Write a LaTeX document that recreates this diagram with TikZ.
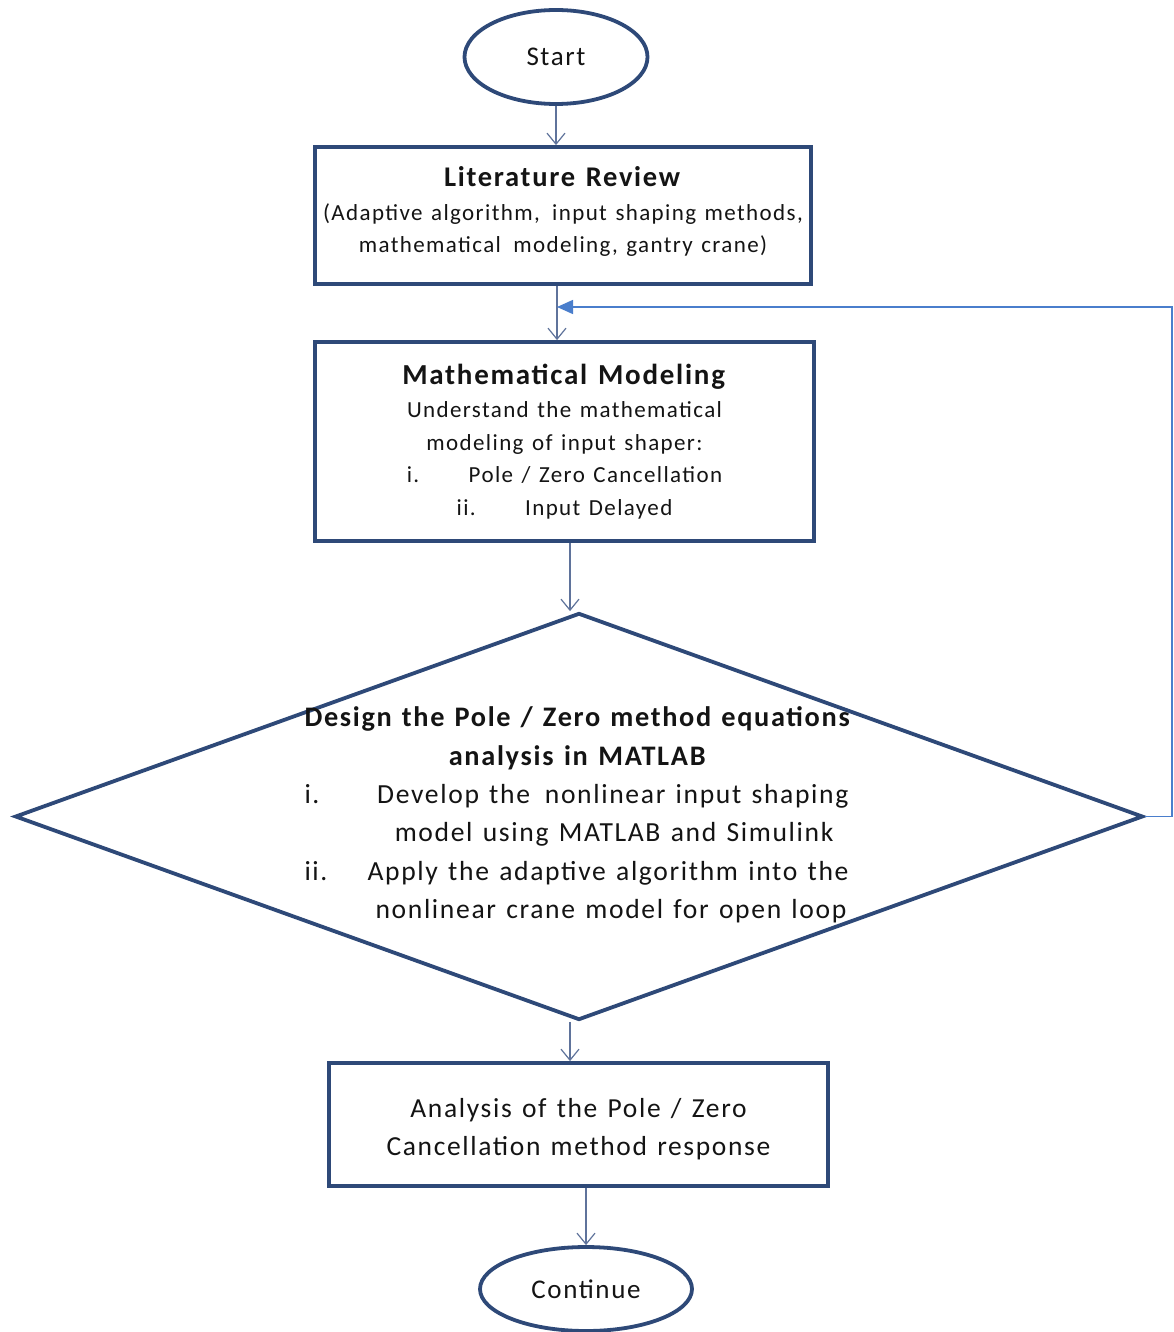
\documentclass[tikz,border=0pt]{standalone}
\usepackage{fontspec}
\setmainfont{Carlito}[LetterSpace=6,WordSpace=1.3]
\usetikzlibrary{shapes.geometric,arrows.meta}
\definecolor{navy}{RGB}{46,73,120}
\definecolor{thinc}{RGB}{95,115,155}
\definecolor{fbc}{RGB}{74,126,204}
\definecolor{txt}{RGB}{20,20,20}
\tikzset{
  boxst/.style={draw=navy, line width=3.8pt, rectangle, inner sep=0pt, align=flush center, text=txt},
  ovalst/.style={draw=navy, line width=3.8pt, ellipse, inner sep=0pt, text=txt, font=\fontsize{27}{34}\selectfont},
  diast/.style={draw=navy, line width=3.8pt, diamond, inner sep=0pt},
  flow/.style={draw=thinc, line width=1.2pt, -{Straight Barb[length=11pt,width=18pt,line width=1.2pt]}},
  fbline/.style={draw=fbc, line width=1.5pt, -{Triangle[length=16pt,width=14pt]}},
}
\begin{document}
\begin{tikzpicture}[x=1pt,y=-1pt]
\useasboundingbox (0,0) rectangle (1173,1332);
\fill[white] (0,0) rectangle (1173,1332);

\node[ovalst, minimum width=183pt, minimum height=94pt] (start) at (556,57) {Start};

\node[boxst, minimum width=496pt, minimum height=137pt, font=\fontsize{23}{32}\selectfont] (lit) at (563,215.5)
  {\textbf{\fontsize{28.5}{32}\selectfont Literature Review}\\[2pt]
   (Adaptive algorithm,\, input shaping methods,\\
   mathematical\, modeling, gantry crane)\rule[-12pt]{0pt}{12pt}};

\node[boxst, minimum width=499pt, minimum height=199pt, font=\fontsize{23}{32.5}\selectfont] (math) at (564.5,441.5)
  {\textbf{\fontsize{29}{32}\selectfont Mathematical Modeling}\\[1pt]
   Understand the mathematical\\
   modeling of input shaper:\\
   i.\hspace{2.15em}Pole / Zero Cancellation\\
   ii.\hspace{2.15em}Input Delayed};

\node[diast, minimum width=1128pt, minimum height=407pt] (d) at (579,816.5) {};
\node[text=txt, align=flush center, text width=547pt, inner sep=0pt, font=\fontsize{27.6}{38.4}\selectfont] (dt) at (578,815)
  {\textbf{\fontsize{28.3}{38.4}\selectfont Design the Pole / Zero method equations}\\
   \textbf{\fontsize{28.3}{38.4}\selectfont analysis in MATLAB}\\
   i.\hfill Develop the\, nonlinear input shaping\rule{3pt}{0pt}\\
   \hfill model using MATLAB and Simulink\rule{18pt}{0pt}\\
   ii.\hfill Apply the adaptive algorithm into the\rule{3pt}{0pt}\\
   \hfill nonlinear crane model for open loop\rule{5pt}{0pt}};

\node[boxst, minimum width=499pt, minimum height=123pt, font=\fontsize{27.5}{38}\selectfont] (ana) at (578.5,1124.5)
  {\rule{0pt}{28pt}Analysis of the Pole / Zero\\Cancellation method response};

\node[ovalst, minimum width=212pt, minimum height=84pt] (cont) at (586,1289) {Continue};

\draw[flow] (start.south) -- (start.south |- lit.north);
\draw[flow] ([xshift=-6pt]lit.south) -- ([xshift=-6pt]lit.south |- math.north);
\draw[flow] ([xshift=5.5pt]math.south) -- ([xshift=5.5pt]math.south |- d.north);
\draw[flow] ([xshift=-9pt]d.south) -- ([xshift=-9pt]d.south |- ana.north);
\draw[flow] ([xshift=7.5pt]ana.south) -- (cont.north);

\coordinate (fb) at (557,307);
\draw[fbline] (d.east) -- ++(27,0) |- (fb);
\end{tikzpicture}
\end{document}
